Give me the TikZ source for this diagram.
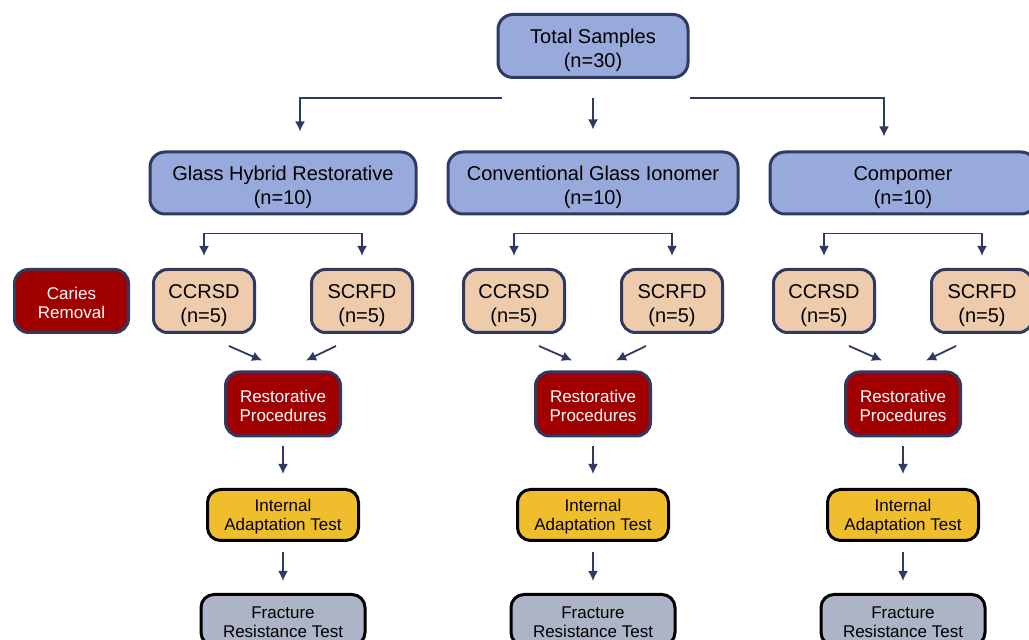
\documentclass[tikz,border=0pt]{standalone}
\usepackage{fontspec}
\setmainfont{Liberation Sans}
\usetikzlibrary{shapes.geometric, arrows, arrows.meta}

\definecolor{navy}{HTML}{2F3A64}
\definecolor{periwinkle}{HTML}{98AADB}
\definecolor{peach}{HTML}{EECBAA}
\definecolor{darkred}{HTML}{A00000}
\definecolor{gold}{HTML}{F0BE2C}
\definecolor{slate}{HTML}{ADB4C7}

\tikzstyle{sample} = [rectangle, rounded corners=7.5pt, minimum width=95pt, minimum height=31.5pt, inner ysep=1.5pt, text centered, draw=navy, line width=1.5pt, fill=periwinkle, align=center, font=\fontsize{10}{12}\selectfont, execute at begin node={\rule{0pt}{23.5pt}}]
\tikzstyle{material} = [sample, minimum width=133pt, minimum height=31pt]
\tikzstyle{subgroup} = [rectangle, rounded corners=7pt, minimum width=50.5pt, minimum height=31.5pt, inner ysep=1.5pt, text centered, draw=navy, line width=1.5pt, fill=peach, align=center, font=\fontsize{10}{12}\selectfont, execute at begin node={\rule{0pt}{24pt}}]
\tikzstyle{process} = [rectangle, rounded corners=7pt, minimum width=57.5pt, minimum height=32pt, inner ysep=1.5pt, text centered, draw=navy, line width=1.5pt, fill=darkred, text=white, align=center, font=\fontsize{8.5}{9.5}\selectfont, execute at begin node={\rule{0pt}{17.2pt}}]
\tikzstyle{adapt} = [rectangle, rounded corners=6.5pt, minimum width=75.5pt, minimum height=25.5pt, inner ysep=1.5pt, text centered, draw=black, line width=1.5pt, fill=gold, align=center, font=\fontsize{8.5}{9.5}\selectfont, execute at begin node={\rule{0pt}{17.2pt}}]
\tikzstyle{fracture} = [adapt, minimum width=82pt, fill=slate]
\tikzstyle{arrow} = [line width=0.9pt, draw=navy, ->, >={Latex[length=5pt,width=5pt]}]

\begin{document}
\begin{tikzpicture}[node distance=50pt]
\useasboundingbox (0,0) rectangle (514.5pt,-320pt);
\clip (0,0) rectangle (514.5pt,-320pt);

\node (total) [sample] at (296.5pt,-23pt) {Total Samples\\(n=30)};

\node (hybrid) [material, below of=total, xshift=-155pt, yshift=-18.5pt] {Glass Hybrid Restorative\\(n=10)};
\node (conv) [material, minimum width=145pt, below of=total, yshift=-18.5pt] {Conventional Glass Ionomer\\(n=10)};
\node (comp) [material, right of=conv, xshift=105pt] {Compomer\\(n=10)};

\node (ccrsd1) [subgroup, below of=hybrid, xshift=-39.5pt, yshift=-9pt] {CCRSD\\(n=5)};
\node (scrfd1) [subgroup, below of=hybrid, xshift=39.5pt, yshift=-9pt] {SCRFD\\(n=5)};
\node (caries) [process, minimum width=57pt, minimum height=31.5pt, left of=ccrsd1, xshift=-16.25pt] {Caries\\Removal};

\node (ccrsd2) [subgroup, below of=conv, xshift=-39.5pt, yshift=-9pt] {CCRSD\\(n=5)};
\node (scrfd2) [subgroup, below of=conv, xshift=39.5pt, yshift=-9pt] {SCRFD\\(n=5)};

\node (ccrsd3) [subgroup, below of=comp, xshift=-39.5pt, yshift=-9pt] {CCRSD\\(n=5)};
\node (scrfd3) [subgroup, below of=comp, xshift=39.5pt, yshift=-9pt] {SCRFD\\(n=5)};

\node (resto1) [process, below of=hybrid, yshift=-60.5pt] {Restorative\\Procedures};
\node (resto2) [process, below of=conv, yshift=-60.5pt] {Restorative\\Procedures};
\node (resto3) [process, below of=comp, yshift=-60.5pt] {Restorative\\Procedures};

\node (adapt1) [adapt, below of=resto1, yshift=-5.5pt] {Internal\\Adaptation Test};
\node (adapt2) [adapt, below of=resto2, yshift=-5.5pt] {Internal\\Adaptation Test};
\node (adapt3) [adapt, below of=resto3, yshift=-5.5pt] {Internal\\Adaptation Test};

\node (frac1) [fracture, below of=adapt1, yshift=-2.5pt] {Fracture\\Resistance Test};
\node (frac2) [fracture, below of=adapt2, yshift=-2.5pt] {Fracture\\Resistance Test};
\node (frac3) [fracture, below of=adapt3, yshift=-2.5pt] {Fracture\\Resistance Test};

% split of the samples
\draw [arrow, shorten >=9.5pt] ([xshift=2.5pt, yshift=-9.5pt]total.south west) -| ([xshift=8.5pt]hybrid.north);
\draw [arrow, shorten >=10.5pt] ([yshift=-9.5pt]total.south) -- (conv);
\draw [arrow, shorten >=7pt] ([yshift=-9.5pt]total.south east) -| ([xshift=-9.5pt]comp.north);

% caries removal groups
\draw [arrow, <->, shorten <=6pt, shorten >=6pt] (ccrsd1) |- ([yshift=-9pt]hybrid.south) -| (scrfd1);
\draw [arrow, <->, shorten <=6pt, shorten >=6pt] (ccrsd2) |- ([yshift=-9pt]conv.south) -| (scrfd2);
\draw [arrow, <->, shorten <=6pt, shorten >=6pt] (ccrsd3) |- ([yshift=-9pt]comp.south) -| (scrfd3);

\draw [arrow] ([xshift=12.5pt, yshift=-6pt]ccrsd1.south) -- ([xshift=-10.5pt, yshift=5pt]resto1.north);
\draw [arrow] ([xshift=-13pt, yshift=-6pt]scrfd1.south) -- ([xshift=11.5pt, yshift=5pt]resto1.north);
\draw [arrow] ([xshift=12.5pt, yshift=-6pt]ccrsd2.south) -- ([xshift=-10.5pt, yshift=5pt]resto2.north);
\draw [arrow] ([xshift=-13pt, yshift=-6pt]scrfd2.south) -- ([xshift=11.5pt, yshift=5pt]resto2.north);
\draw [arrow] ([xshift=12.5pt, yshift=-6pt]ccrsd3.south) -- ([xshift=-10.5pt, yshift=5pt]resto3.north);
\draw [arrow] ([xshift=-13pt, yshift=-6pt]scrfd3.south) -- ([xshift=11.5pt, yshift=5pt]resto3.north);

% tests
\draw [arrow, shorten <=4.5pt, shorten >=7pt] (resto1) -- (adapt1);
\draw [arrow, shorten <=4.5pt, shorten >=7pt] (resto2) -- (adapt2);
\draw [arrow, shorten <=4.5pt, shorten >=7pt] (resto3) -- (adapt3);
\draw [arrow, shorten <=5pt, shorten >=6pt] (adapt1) -- (frac1);
\draw [arrow, shorten <=5pt, shorten >=6pt] (adapt2) -- (frac2);
\draw [arrow, shorten <=5pt, shorten >=6pt] (adapt3) -- (frac3);

\end{tikzpicture}
\end{document}
